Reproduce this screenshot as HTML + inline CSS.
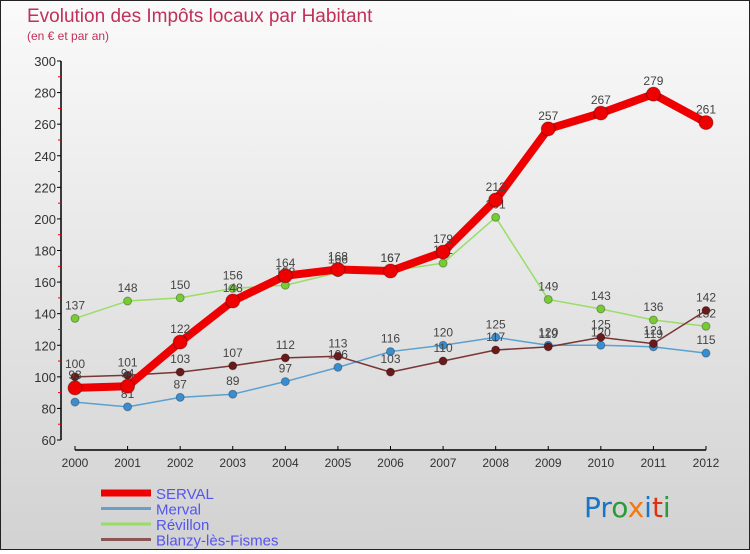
<!DOCTYPE html>
<html><head><meta charset="utf-8"><style>
html,body{margin:0;padding:0}
body{width:750px;height:550px;overflow:hidden;font-family:"Liberation Sans",sans-serif}
#wrap{position:relative;width:748px;height:548px;border:1px solid #222;background:linear-gradient(#fafafa,#d2d2d2)}
</style></head><body>
<div id="wrap">
<svg id="chart" width="748" height="548">
<text x="26" y="21" font-size="19" fill="#c0305a">Evolution des Impôts locaux par Habitant</text>
<text x="26" y="39" font-size="12" fill="#c0305a">(en € et par an)</text>
<g id="axes"></g><g id="series"></g><g id="legend"></g>
<text x="583" y="516" font-size="28" font-family="DejaVu Sans, sans-serif"><tspan fill="#1a74c8">Pr</tspan><tspan fill="#2a9a3a">o</tspan><tspan fill="#f07a10">x</tspan><tspan fill="#1a74c8">i</tspan><tspan fill="#e03010">t</tspan><tspan fill="#2a9a3a">i</tspan></text>
</svg></div>
<script>
const years=[2000,2001,2002,2003,2004,2005,2006,2007,2008,2009,2010,2011,2012];
const yTicks=[60,80,100,120,140,160,180,200,220,240,260,280,300];
const serval=[93,94,122,148,164,168,167,179,212,257,267,279,261];
const merval=[84,81,87,89,97,106,116,120,125,120,120,119,115];
const revillon=[137,148,150,156,158,166,167,172,201,149,143,136,132];
const blanzy=[100,101,103,107,112,113,103,110,117,119,125,121,142];
const NS="http://www.w3.org/2000/svg";
function x(i){return 74+i*(705-74)/(years.length-1);}
function y(v){return 439-(v-60)*(379/240);}
function mk(t,a,p){const e=document.createElementNS(NS,t);for(const k in a)e.setAttribute(k,a[k]);p.appendChild(e);return e;}
const ax=document.getElementById('axes');
let l=mk('line',{x1:60,y1:y(300),x2:60,y2:y(60),stroke:'#000','stroke-width':1.5},ax);


yTicks.forEach(v=>{
  const t=mk('line',{x1:56,y1:y(v),x2:60,y2:y(v),stroke:'#000'},ax);
  
  
  if(v<300){const m=mk('line',{x1:57,y1:y(v+10),x2:60,y2:y(v+10),stroke:'#e00'},ax);
  
  }
  const tx=mk('text',{x:55,y:y(v)+5,'text-anchor':'end','font-size':13,fill:'#333'},ax);
  tx.textContent=v;
  
  
});
l=mk('line',{x1:x(0),y1:449,x2:x(years.length-1),y2:449,stroke:'#000','stroke-width':1.5},ax);


years.forEach((yr,i)=>{
  const t=mk('line',{x1:x(i),y1:445,x2:x(i),y2:449,stroke:'#000'},ax);
  
  
  const tx=mk('text',{x:x(i),y:466,'text-anchor':'middle','font-size':12,fill:'#333'},ax);
  tx.textContent=yr;
  
  
});
const sg=document.getElementById('series');
function draw(data,color,dot,w,r,name){
  const g=mk('g',{},sg);
  
  
  const p=mk('polyline',{points:data.map((v,i)=>x(i)+','+y(v)).join(' '),fill:'none',stroke:color,'stroke-width':w,'stroke-linejoin':'round'},g);
  
  
  data.forEach((v,i)=>{
    const c=mk('circle',{cx:x(i),cy:y(v),r:r,fill:dot,stroke:'rgba(0,0,0,0.3)'},g);
    
    
    const t=mk('text',{x:x(i),y:y(v)-9,'text-anchor':'middle','font-size':12,fill:'#444'},g);
    t.textContent=v;
    
    
  });
}
draw(merval,'#5aa0d0','#3a8ed0',1.5,4,'merval');
draw(revillon,'#99dd66','#77cc33',1.5,4,'revillon');
draw(blanzy,'#7a3535','#6a1a1a',1.5,4,'blanzy');
draw(serval,'#ee0000','#ee0000',8,7,'serval');
const lg=document.getElementById('legend');
[['SERVAL','#ee0000',7],['Merval','#6aa0c8',3],['Révillon','#99dd66',3],['Blanzy-lès-Fismes','#8a5555',3]].forEach((e,i)=>{
  const yy=492+i*15.5;
  const ln=mk('line',{x1:100,y1:yy,x2:150,y2:yy,stroke:e[1],'stroke-width':e[2]},lg);
  
  
  const t=mk('text',{x:155,y:yy+6,'font-size':15,fill:'#5555ee'},lg);
  t.textContent=e[0];
  
  
});
</script>
</body></html>
